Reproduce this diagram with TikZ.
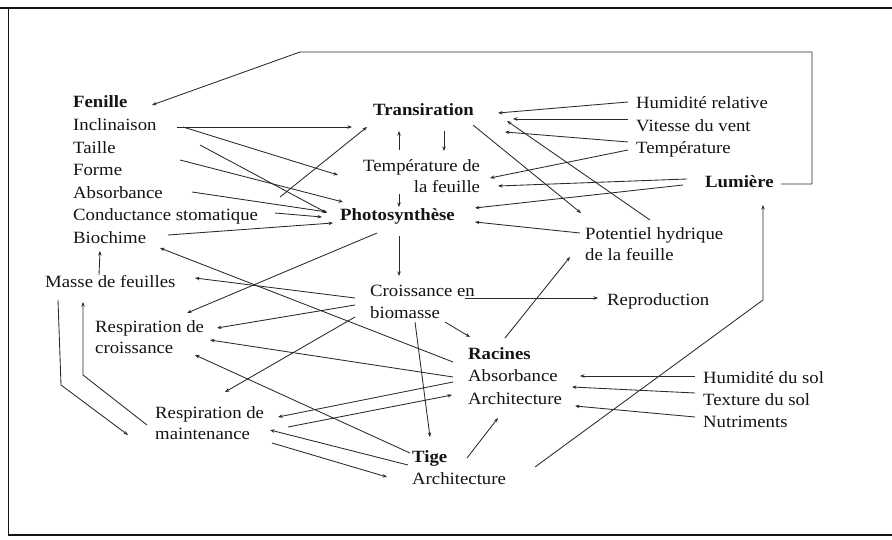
\documentclass[tikz,border=0pt]{standalone}
\usepackage{fontspec}
\setmainfont{Liberation Serif}[FakeStretch=1.09]
\usetikzlibrary{arrows.meta}
\definecolor{ink}{HTML}{141414}
\definecolor{wire}{HTML}{2A2A2A}
\begin{document}
\begin{tikzpicture}[x=1pt,y=-1pt,
  lbl/.style={inner sep=0pt, anchor=west, text height=11.6pt, text depth=3.7pt, text=ink, font=\fontsize{17.2}{21.5}\selectfont},
  hd/.style={lbl, font=\fontsize{17.2}{21.5}\selectfont\bfseries},
  ml/.style={inner sep=0pt, anchor=north west, text=ink, font=\fontsize{17.2}{21.5}\selectfont},
  arr/.style={draw=wire, line width=0.85pt, -{Stealth[length=4.5pt,width=3.5pt]}},
  ln/.style={draw=wire, line width=0.85pt}]
\useasboundingbox (0,0) rectangle (892,540);
\fill[white] (0,0) rectangle (892,540);
% frame
\draw[ink, line width=2pt] (0,8.5) -- (892,8.5);
\draw[ink, line width=1.4pt] (8.5,8.5) -- (8.5,535) -- (892,535);

% nodes
\node[hd]  (feuille) at (73,104) {Fenille};
\node[lbl] (incl)    at (73,127) {Inclinaison};
\node[lbl] (taille)  at (73,150) {Taille};
\node[lbl] (forme)   at (73,172) {Forme};
\node[lbl] (absf)    at (73,195) {Absorbance};
\node[lbl] (cond)    at (73,217) {Conductance stomatique};
\node[lbl] (bioch)   at (73,240) {Biochime};
\node[hd]  (trans)   at (373,112) {Transiration};
\node[ml, align=right] (tfeuil) at (363,159.3) {Température de\\la feuille};
\node[hd]  (photo)   at (340,217) {Photosynthèse};
\node[lbl] (hum)     at (636,105) {Humidité relative};
\node[lbl] (vent)    at (636,128) {Vitesse du vent};
\node[lbl] (temp)    at (636,150) {Température};
\node[hd]  (lum)     at (705,184) {Lumière};
\node[ml, align=left] (pot) at (585,227.3) {Potentiel hydrique\\de la feuille};
\node[lbl] (masse)   at (45,284) {Masse de feuilles};
\node[ml, align=left] (crois) at (370,285.3) {Croissance en\\biomasse};
\node[lbl] (repro)   at (607,302) {Reproduction};
\node[ml, align=left] (rcrois) at (95,320.3) {Respiration de\\croissance};
\node[hd]  (rac)     at (468,356) {Racines};
\node[lbl] (absr)    at (468,378) {Absorbance};
\node[lbl] (archr)   at (468,401) {Architecture};
\node[lbl] (hsol)    at (703,380) {Humidité du sol};
\node[lbl] (tsol)    at (703,402) {Texture du sol};
\node[lbl] (nutr)    at (703,424) {Nutriments};
\node[ml, align=left] (rmaint) at (155,406.3) {Respiration de\\maintenance};
\node[hd]  (tige)    at (412,459) {Tige};
\node[lbl] (archt)   at (412,481) {Architecture};

% leaf traits
\draw[arr] ([shift={(104,0)}]incl.west) -- ([shift={(-21,15)}]trans.west);
\draw[arr] ([shift={(110,0)}]incl.west) -- ([shift={(-25,15.7)}]tfeuil.north west);
\draw[arr] ([shift={(127,-5)}]taille.west) -- ([shift={(-13,-4)}]photo.west);
\draw[arr] ([shift={(107,-12)}]forme.west) -- ([shift={(3,-15)}]photo.west);
\draw[arr] ([shift={(119,-3)}]absf.west) -- ([shift={(-13,-5)}]photo.west);
\draw[arr] ([shift={(202,-4)}]cond.west) -- ([shift={(-18,0)}]photo.west);
\draw[arr] ([shift={(95,-5)}]bioch.west) -- ([shift={(-7,6)}]photo.west);
\draw[arr] ([shift={(207,-20)}]cond.west) -- ([shift={(-6,15)}]trans.west);
\draw[arr] ([shift={(54,-9)}]masse.west) -- ([shift={(27,11)}]bioch.west);
\draw[arr] ([shift={(-15,6)}]rac.west) -- ([shift={(87,8)}]bioch.west);

% centre column
\draw[arr] ([shift={(59,19)}]photo.west) -- ([shift={(29,-9.3)}]crois.north west);
\draw[arr] ([shift={(37,16)}]photo.west) -- ([shift={(92,-7.3)}]rcrois.north west);
\draw[arr] ([shift={(-5,5.7)}]pot.north west) -- ([shift={(135,5)}]photo.west);
\draw[arr] ([shift={(36,34.7)}]tfeuil.north west) -- ([shift={(59,-10)}]photo.west);
\draw[arr] ([shift={(36,-9.3)}]tfeuil.north west) -- ([shift={(26,19)}]trans.west);
\draw[arr] ([shift={(71,19)}]trans.west) -- ([shift={(81,-8.3)}]tfeuil.north west);
\draw[arr] ([shift={(100,13)}]trans.west) -- ([shift={(-4,-14.3)}]pot.north west);
\draw[arr] ([shift={(65,-7.3)}]pot.north west) -- ([shift={(134,9)}]trans.west);

% climate
\draw[arr] ([shift={(-8,-3)}]hum.west) -- ([shift={(125,1)}]trans.west);
\draw[arr] ([shift={(-8,-9)}]vent.west) -- ([shift={(140,7)}]trans.west);
\draw[arr] ([shift={(-8,-8)}]temp.west) -- ([shift={(132,20)}]trans.west);
\draw[arr] ([shift={(-8,0)}]temp.west) -- ([shift={(127,18.7)}]tfeuil.north west);
\draw[arr] ([shift={(-18,-5)}]lum.west) -- ([shift={(135,26.7)}]tfeuil.north west);
\draw[arr] ([shift={(-22,1)}]lum.west) -- ([shift={(135,-9)}]photo.west);
\draw[arr] ([shift={(76,0)}]lum.west) -- ++(31,0) -- ++(0,-132) -- ++(-512,0) -- ([shift={(79,1)}]feuille.west);
\draw[arr] ([shift={(123,-14)}]archt.west) -- ++(228,-167) -- ([shift={(58,21)}]lum.west);

% growth
\draw[arr] ([shift={(95,12.7)}]crois.north west) -- ([shift={(-9,-4)}]repro.west);
\draw[arr] ([shift={(75,36.7)}]crois.north west) -- ([shift={(2,-19)}]rac.west);
\draw[arr] ([shift={(45,36.7)}]crois.north west) -- ([shift={(18,-22)}]tige.west);
\draw[arr] ([shift={(-15,12.7)}]crois.north west) -- ([shift={(150,-6)}]masse.west);
\draw[arr] ([shift={(-15,19.7)}]crois.north west) -- ([shift={(122,7.7)}]rcrois.north west);
\draw[arr] ([shift={(-15,31.7)}]crois.north west) -- ([shift={(70,-14.3)}]rmaint.north west);

% roots
\draw[arr] ([shift={(37,-18)}]rac.west) -- ([shift={(-15,29.7)}]pot.north west);
\draw[arr] ([shift={(-15,-1)}]absr.west) -- ([shift={(115,19.7)}]rcrois.north west);
\draw[arr] ([shift={(-15,4)}]absr.west) -- ([shift={(123,10.7)}]rmaint.north west);
\draw[arr] ([shift={(133,20.7)}]rmaint.north west) -- ([shift={(-16,-6)}]archr.west);
\draw[arr] ([shift={(-8,-4)}]hsol.west) -- ([shift={(112,-2)}]absr.west);
\draw[arr] ([shift={(-8,-9)}]tsol.west) -- ([shift={(104,9)}]absr.west);
\draw[arr] ([shift={(-8,-7)}]nutr.west) -- ([shift={(107,5)}]archr.west);

% stem
\draw[arr] ([shift={(-2,-6)}]tige.west) -- ([shift={(100,34.7)}]rcrois.north west);
\draw[arr] ([shift={(-4,6)}]tige.west) -- ([shift={(115,23.7)}]rmaint.north west);
\draw[arr] ([shift={(117,36.7)}]rmaint.north west) -- ([shift={(-25,-4)}]archt.west);
\draw[arr] ([shift={(55,-1)}]tige.west) -- ([shift={(30,17)}]archr.west);

% leaf mass and maintenance
\draw[arr] ([shift={(13,16)}]masse.west) -- ++(3,85) -- ([shift={(-27,28.7)}]rmaint.north west);
\draw[arr] ([shift={(-8,18.7)}]rmaint.north west) -- ++(-64,-50) -- ([shift={(38,18)}]masse.west);
\end{tikzpicture}
\end{document}
